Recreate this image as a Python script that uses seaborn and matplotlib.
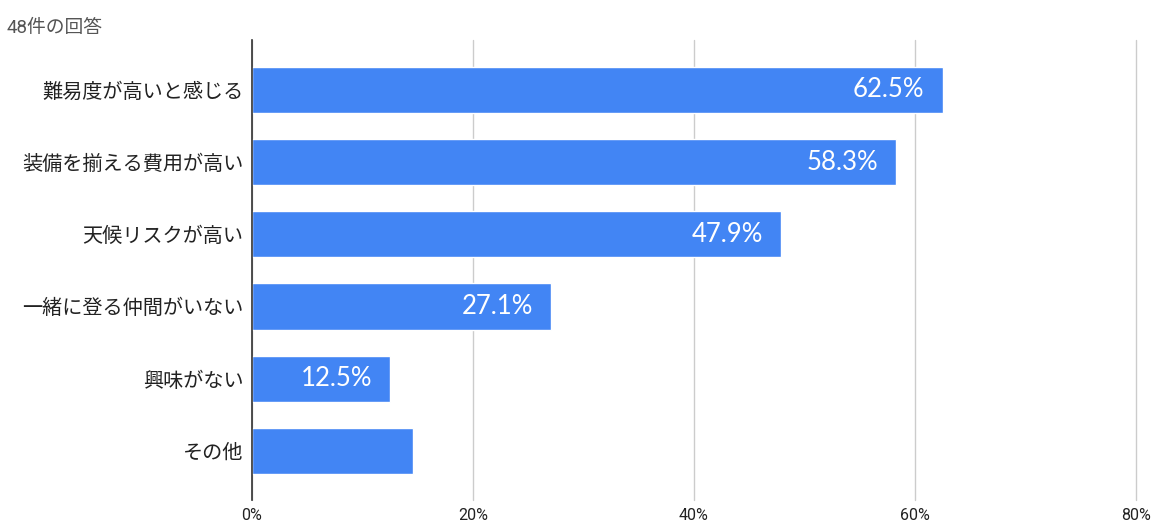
import pandas as pd
import matplotlib.pyplot as plt
import seaborn as sns

# Survey answers (48 responses)
categories = ['難易度が高いと感じる', '装備を揃える費用が高い', '天候リスクが高い',
              '一緒に登る仲間がいない', '興味がない', 'その他']
percentages = [62.5, 58.3, 47.9, 27.1, 12.5, 14.6]
bar_labels = ['62.5%', '58.3%', '47.9%', '27.1%', '12.5%', '']
x_ticks = [0, 20, 40, 60, 80]
x_tick_labels = ['0%', '20%', '40%', '60%', '80%']
title_text = '48件の回答'

df = pd.DataFrame({'category': categories, 'pct': percentages})

sns.set_theme(style='white')
plt.rcParams['font.family'] = ['Roboto', 'Noto Sans CJK JP', 'DejaVu Sans']

fig = plt.figure(figsize=(11.52, 5.31), dpi=100)
ax = fig.add_axes([0.21875, 0.0584, 0.986 - 0.21875, 0.9247 - 0.0584])

sns.barplot(data=df, x='pct', y='category', color='#4285F4', saturation=1,
            width=0.64, ax=ax, zorder=3)

ax.set_xlim(0, 80)
ax.set_ylim(5.68, -0.69)
ax.set_xticks(x_ticks)
ax.set_xticklabels(x_tick_labels, fontsize=11.5, color='#222222')
ax.tick_params(axis='x', length=0, pad=6)
ax.tick_params(axis='y', length=0, pad=6)
for lbl in ax.get_yticklabels():
    lbl.set_fontsize(14.5)
    lbl.set_color('#222222')
    lbl.set_family(['Noto Sans CJK JP', 'DejaVu Sans'])
ax.set_xlabel('')
ax.set_ylabel('')

ax.grid(axis='x', color='#cccccc', linewidth=1, zorder=0)
for gl in ax.get_xgridlines():
    gl.set_clip_on(False)
for s in ['top', 'right', 'bottom']:
    ax.spines[s].set_visible(False)
ax.spines['left'].set_color('#333333')
ax.spines['left'].set_linewidth(1.2)
ax.spines['left'].set_zorder(4)

ax.bar_label(ax.containers[0], labels=bar_labels, padding=-13, color='white',
             fontsize=18.5, family=['Lato', 'Roboto', 'DejaVu Sans'])
for t in ax.texts:
    t.set_ha('right')

fig.text(0.006, 0.948, title_text, fontsize=13.5, color='#555555',
         family=['Roboto', 'Noto Sans CJK JP', 'DejaVu Sans'], va='center')

fig.savefig('out.png', dpi=100)
